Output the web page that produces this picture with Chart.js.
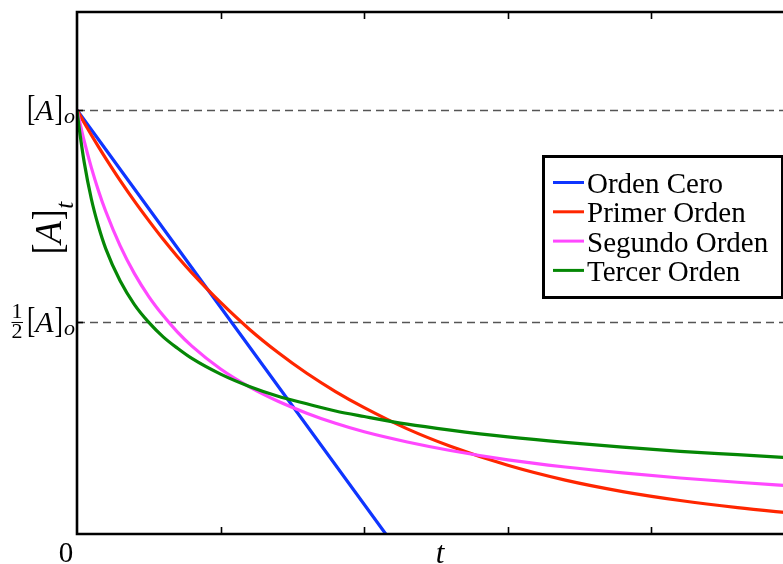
<!DOCTYPE html>
<html>
<head>
<meta charset="utf-8">
<script src="https://cdn.jsdelivr.net/npm/chart.js@4/dist/chart.umd.min.js"></script>
<style>
html,body{margin:0;padding:0;background:#fff;overflow:hidden;width:783px;height:564px;}
canvas{display:block;}
</style>
</head>
<body>
<canvas id="c" width="840" height="564"></canvas>
<script>
// ---- data ----
const seriesNames = ['Orden Cero', 'Primer Orden', 'Segundo Orden', 'Tercer Orden'];
const seriesColors = ['#0f35ff', '#ff2600', '#ff48ff', '#058705'];
const zeroOrderT = [0, 2.15];
const zeroOrderA = [1, 0];
const tValues   = [0, 0.01, 0.02, 0.05, 0.1, 0.15, 0.2, 0.3, 0.4, 0.5, 0.6, 0.7, 0.8, 1.0, 1.2, 1.4, 1.6, 1.8, 2.0, 2.3, 2.6, 3.0, 3.4, 3.8, 4.2, 4.6, 5.0];
const firstOrder  = [1, 0.994, 0.988, 0.970, 0.941, 0.913, 0.886, 0.834, 0.785, 0.739, 0.695, 0.654, 0.616, 0.546, 0.483, 0.428, 0.379, 0.336, 0.298, 0.248, 0.207, 0.162, 0.127, 0.100, 0.079, 0.062, 0.048];
const secondOrder = [1, 0.985, 0.970, 0.927, 0.864, 0.809, 0.761, 0.680, 0.614, 0.560, 0.515, 0.476, 0.443, 0.389, 0.347, 0.313, 0.285, 0.261, 0.241, 0.217, 0.197, 0.175, 0.158, 0.144, 0.132, 0.122, 0.113];
const thirdOrder  = [1, 0.971, 0.945, 0.877, 0.790, 0.725, 0.673, 0.597, 0.541, 0.499, 0.465, 0.438, 0.414, 0.377, 0.348, 0.325, 0.307, 0.290, 0.277, 0.259, 0.245, 0.229, 0.216, 0.205, 0.195, 0.187, 0.179];
const xTickValues = [1, 2, 3, 4];
const yRefValues = [1, 0.5];
const xMax = 5;
const yMax = 1.231;

function pts(xs, ys) { return xs.map((x, i) => ({ x: x, y: ys[i] })); }

const SERIF = '"Liberation Serif", "Times New Roman", serif';

// draw a sequence of text parts left to right; returns end x
function drawParts(ctx, x, baseline, parts, measureOnly) {
  let cx = x;
  parts.forEach(p => {
    ctx.font = p.font;
    const sx = p.sx || 1;
    const w = ctx.measureText(p.text).width * sx;
    if (!measureOnly) {
      ctx.save();
      ctx.translate(cx, baseline + (p.dy || 0));
      ctx.scale(sx, 1);
      ctx.textAlign = 'left';
      ctx.textBaseline = 'alphabetic';
      ctx.fillText(p.text, 0, 0);
      ctx.restore();
    }
    cx += w + (p.gap || 0);
  });
  return cx;
}

function bracketA(bSize, aSize) {
  return [
    { text: '[', font: bSize + 'px ' + SERIF, sx: 0.72 },
    { text: 'A', font: 'italic ' + aSize + 'px ' + SERIF, gap: 1 },
    { text: ']', font: bSize + 'px ' + SERIF, sx: 0.72 }
  ];
}

const decorPlugin = {
  id: 'decor',
  beforeDatasetsDraw(chart) {
    const ctx = chart.ctx, a = chart.chartArea, ys = chart.scales.y;
    ctx.save();
    ctx.strokeStyle = '#555';
    ctx.lineWidth = 1.3;
    ctx.setLineDash([8, 5]);
    yRefValues.forEach(v => {
      const py = Math.round(ys.getPixelForValue(v)) + 0.5;
      ctx.beginPath(); ctx.moveTo(a.left, py); ctx.lineTo(a.right, py); ctx.stroke();
    });
    ctx.restore();
  },
  afterDatasetsDraw(chart) {
    const ctx = chart.ctx, a = chart.chartArea, xs = chart.scales.x, ys = chart.scales.y;
    ctx.save();
    // frame
    ctx.strokeStyle = '#000';
    ctx.lineWidth = 2.6;
    ctx.beginPath();
    ctx.moveTo(a.right, a.top); ctx.lineTo(a.left, a.top); ctx.lineTo(a.left, a.bottom); ctx.lineTo(a.right, a.bottom);
    ctx.stroke();
    // ticks (inward)
    ctx.lineWidth = 1.6;
    xTickValues.forEach(v => {
      const px = Math.round(xs.getPixelForValue(v)) + 0.5;
      ctx.beginPath(); ctx.moveTo(px, a.bottom); ctx.lineTo(px, a.bottom - 7); ctx.stroke();
      ctx.beginPath(); ctx.moveTo(px, a.top); ctx.lineTo(px, a.top + 7); ctx.stroke();
    });
    yRefValues.forEach(v => {
      const py = Math.round(ys.getPixelForValue(v)) + 0.5;
      ctx.beginPath(); ctx.moveTo(a.left, py); ctx.lineTo(a.left + 6, py); ctx.stroke();
    });

    // y tick labels
    ctx.fillStyle = '#000';
    const yTop = ys.getPixelForValue(yRefValues[0]);
    const yHalf = ys.getPixelForValue(yRefValues[1]);
    const drawAo = (py) => {
      const parts = bracketA(35, 30);
      const w = drawParts(ctx, 0, 0, parts, true);
      const end = drawParts(ctx, 63 - w, py + 10, parts, false);
      drawParts(ctx, end + 1, py + 13, [{ text: 'o', font: 'italic 22px ' + SERIF }], false);
    };
    drawAo(yTop);
    drawAo(yHalf);
    // 1/2 fraction
    ctx.font = '22px ' + SERIF;
    ctx.textAlign = 'center';
    ctx.textBaseline = 'alphabetic';
    ctx.fillText('1', 17, yHalf - 4);
    ctx.fillText('2', 17, yHalf + 16);
    ctx.lineWidth = 1;
    ctx.beginPath(); ctx.moveTo(11.5, yHalf + 0.5); ctx.lineTo(23, yHalf + 0.5); ctx.stroke();

    // x tick label "0"
    ctx.font = '29px ' + SERIF;
    ctx.textAlign = 'center';
    ctx.fillText('0', xs.getPixelForValue(0) - 11, 562);
    // x axis title
    ctx.font = 'italic 31px ' + SERIF;
    ctx.fillText('t', (a.left + a.right) / 2 + 4, 563);

    // y axis title (rotated)
    ctx.save();
    ctx.rotate(-Math.PI / 2);
    const tEnd = drawParts(ctx, -254, 61, bracketA(43, 37), false);
    drawParts(ctx, tEnd + 1, 73, [{ text: 't', font: 'italic 25px ' + SERIF }], false);
    ctx.restore();

    // legend
    const bx = 543, by = 156, bw = 239, bh = 141;
    ctx.fillStyle = '#fff';
    ctx.fillRect(bx, by, bw, bh);
    ctx.strokeStyle = '#000';
    ctx.lineWidth = 3;
    ctx.strokeRect(bx + 0.5, by + 0.5, bw, bh);
    chart.data.datasets.forEach((ds, i) => {
      const ly = 182.5 + i * 29.3;
      ctx.strokeStyle = ds.borderColor;
      ctx.lineWidth = 3;
      ctx.beginPath(); ctx.moveTo(553, ly); ctx.lineTo(584, ly); ctx.stroke();
      ctx.fillStyle = '#000';
      ctx.font = '29px ' + SERIF;
      ctx.textAlign = 'left';
      ctx.textBaseline = 'alphabetic';
      ctx.fillText(ds.label, 587, ly + 10.5);
    });
    ctx.restore();
  }
};

const datasets = [
  { label: seriesNames[0], data: pts(zeroOrderT, zeroOrderA), borderColor: seriesColors[0], order: 4 },
  { label: seriesNames[1], data: pts(tValues, firstOrder), borderColor: seriesColors[1], order: 3 },
  { label: seriesNames[2], data: pts(tValues, secondOrder), borderColor: seriesColors[2], order: 2 },
  { label: seriesNames[3], data: pts(tValues, thirdOrder), borderColor: seriesColors[3], order: 1 }
].map(d => Object.assign(d, {
  borderWidth: 3.2, pointRadius: 0, fill: false, cubicInterpolationMode: 'monotone'
}));

new Chart(document.getElementById('c'), {
  type: 'line',
  data: { datasets: datasets },
  options: {
    responsive: false,
    animation: false,
    layout: { padding: { left: 77, top: 12, right: 45, bottom: 30 } },
    plugins: { legend: { display: false }, tooltip: { enabled: false } },
    scales: {
      x: { type: 'linear', min: 0, max: xMax, display: false },
      y: { type: 'linear', min: 0, max: yMax, display: false }
    }
  },
  plugins: [decorPlugin]
});
</script>
</body>
</html>
